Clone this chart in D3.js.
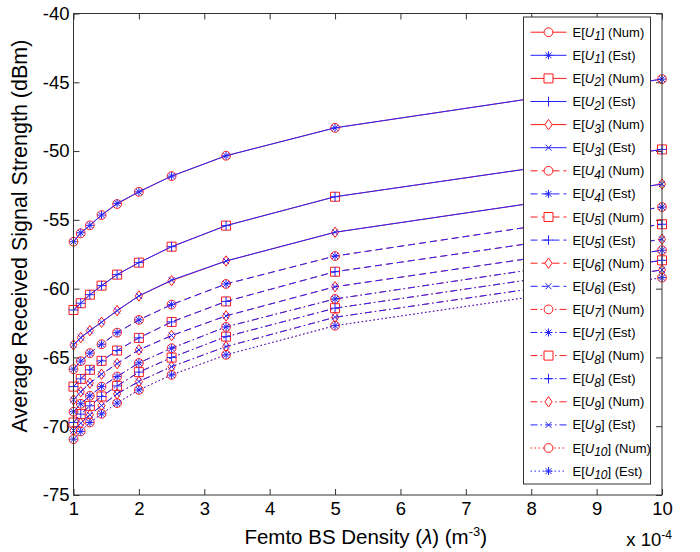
<!DOCTYPE html>
<html>
<head>
<meta charset="utf-8">
<script src="https://cdn.jsdelivr.net/npm/d3@7"></script>
<style>
  body { margin: 0; background: #fff; }
  svg { font-family: "Liberation Sans", Arial, sans-serif; }
</style>
</head>
<body>
<div id="my_dataviz"></div>
<script>
// femto BS density, x 10^-4
var densities = [1, 1.111, 1.25, 1.429, 1.667, 2, 2.5, 3.333, 5, 10];
var xTicks = [1, 2, 3, 4, 5, 6, 7, 8, 9, 10];
var yTicks = [-75, -70, -65, -60, -55, -50, -45, -40];

// numerical results, one row per user U1..U10
var numValues = [
    [-56.59, -55.98, -55.40, -54.65, -53.85, -52.96, -51.82, -50.34, -48.31, -44.77],
    [-61.55, -61.06, -60.44, -59.78, -58.98, -58.11, -56.95, -55.42, -53.32, -49.88],
    [-64.09, -63.56, -63.05, -62.44, -61.60, -60.53, -59.42, -57.99, -55.90, -52.40],
    [-65.85, -65.27, -64.69, -64.04, -63.20, -62.27, -61.16, -59.66, -57.63, -54.07],
    [-67.12, -66.56, -65.90, -65.25, -64.50, -63.58, -62.42, -60.93, -58.77, -55.32],
    [-68.08, -67.50, -66.87, -66.22, -65.45, -64.45, -63.41, -61.98, -59.86, -56.41],
    [-68.95, -68.37, -67.79, -67.12, -66.39, -65.40, -64.33, -62.78, -60.75, -57.21],
    [-69.73, -69.12, -68.52, -67.84, -67.07, -66.07, -65.01, -63.49, -61.42, -57.94],
    [-70.31, -69.78, -69.17, -68.50, -67.65, -66.75, -65.67, -64.21, -62.08, -58.64],
    [-70.94, -70.38, -69.73, -69.10, -68.32, -67.36, -66.27, -64.81, -62.69, -59.20]
];

// estimated results, one row per user U1..U10
var estValues = [
    [-56.59, -55.94, -55.40, -54.65, -53.80, -52.96, -51.82, -50.34, -48.31, -44.77],
    [-61.55, -61.06, -60.44, -59.78, -58.98, -58.11, -56.95, -55.42, -53.32, -49.88],
    [-64.09, -63.56, -63.05, -62.44, -61.60, -60.53, -59.38, -57.99, -55.90, -52.40],
    [-65.85, -65.27, -64.69, -64.04, -63.20, -62.27, -61.16, -59.66, -57.63, -54.07],
    [-67.12, -66.56, -65.90, -65.25, -64.50, -63.58, -62.42, -60.93, -58.77, -55.32],
    [-68.08, -67.50, -66.87, -66.22, -65.45, -64.45, -63.41, -61.98, -59.86, -56.41],
    [-68.95, -68.37, -67.79, -67.12, -66.39, -65.40, -64.33, -62.78, -60.75, -57.21],
    [-69.73, -69.12, -68.52, -67.84, -67.07, -66.07, -65.01, -63.49, -61.42, -57.94],
    [-70.31, -69.78, -69.17, -68.50, -67.65, -66.75, -65.67, -64.21, -62.08, -58.64],
    [-70.94, -70.38, -69.73, -69.10, -68.32, -67.36, -66.27, -64.81, -62.69, -59.20]
];

var userLabels = ["1", "2", "3", "4", "5", "6", "7", "8", "9", "10"];

var red = "#ff1a1a", blue = "#2424ff";
var dashes = { solid: null, dashed: "7,4", dashdot: "7,3,1.5,3", dotted: "1.5,2.5" };
function lineStyle(i) {
    if (i < 3) return dashes.solid;
    if (i < 6) return dashes.dashed;
    if (i < 9) return dashes.dashdot;
    return dashes.dotted;
}

// marker paths
var numMarkers = [
    "M4.4,0A4.4,4.4 0 1,1 -4.4,0A4.4,4.4 0 1,1 4.4,0Z",    // circle
    "M-4.5,-4.5H4.5V4.5H-4.5Z",                               // square
    "M0,-5.2L3.6,0L0,5.2L-3.6,0Z"                             // diamond
];
var estMarkers = [
    "M-4,0H4M0,-4V4M-2.9,-2.9L2.9,2.9M-2.9,2.9L2.9,-2.9",     // star
    "M-4.8,0H4.8M0,-4.8V4.8",                                 // plus
    "M-3,-3L3,3M-3,3L3,-3"                                    // x
];

var margin = { top: 13.5, right: 38, bottom: 57, left: 73.5 },
    width = 700 - margin.left - margin.right,
    height = 552 - margin.top - margin.bottom;

var svg = d3.select("#my_dataviz")
    .append("svg")
    .attr("width", 700)
    .attr("height", 552)
    .append("g")
    .attr("transform", "translate(" + margin.left + "," + margin.top + ")");

var x = d3.scaleLinear().domain([1, 10]).range([0, width]);
var y = d3.scaleLinear().domain([-75, -40]).range([height, 0]);

// axes, ticks pointing inwards on all four sides
function styleAxis(g) {
    g.select(".domain").remove();
    g.selectAll(".tick line").attr("stroke", "#333");
    g.selectAll(".tick text").attr("fill", "#000").attr("font-size", "18.5px");
}
svg.append("g")
    .attr("transform", "translate(0," + height + ")")
    .call(d3.axisBottom(x).tickValues(xTicks).tickSizeInner(-6).tickSizeOuter(0).tickPadding(7).tickFormat(String))
    .call(styleAxis);
svg.append("g")
    .call(d3.axisTop(x).tickValues(xTicks).tickSizeInner(-6).tickSizeOuter(0).tickFormat(""))
    .call(styleAxis);
svg.append("g")
    .call(d3.axisLeft(y).tickValues(yTicks).tickSizeInner(-6).tickSizeOuter(0).tickPadding(4).tickFormat(String))
    .call(styleAxis);
svg.append("g")
    .attr("transform", "translate(" + width + ",0)")
    .call(d3.axisRight(y).tickValues(yTicks).tickSizeInner(-6).tickSizeOuter(0).tickFormat(""))
    .call(styleAxis);

var line = d3.line()
    .x(function (d, i) { return x(densities[i]); })
    .y(function (d) { return y(d); });

// curves, Num then Est for each user
numValues.forEach(function (row, i) {
    var series = [
        { values: row, color: red, marker: numMarkers[i % 3], w: 0.9 },
        { values: estValues[i], color: blue, marker: estMarkers[i % 3], w: 1 }
    ];
    series.forEach(function (s) {
        svg.append("path")
            .datum(s.values)
            .attr("fill", "none")
            .attr("stroke", s.color)
            .attr("stroke-width", s.w)
            .attr("stroke-dasharray", lineStyle(i))
            .attr("d", line);
        svg.selectAll(null)
            .data(s.values)
            .enter()
            .append("path")
            .attr("transform", function (d, k) { return "translate(" + x(densities[k]) + "," + y(d) + ")"; })
            .attr("d", s.marker)
            .attr("fill", "none")
            .attr("stroke", s.color)
            .attr("stroke-width", 1);
    });
});

// plot box
svg.append("rect")
    .attr("width", width)
    .attr("height", height)
    .attr("fill", "none")
    .attr("stroke", "#333")
    .attr("stroke-width", 1);

// legend
var legendEntries = [];
userLabels.forEach(function (u, i) {
    legendEntries.push({ u: u, kind: "Num", color: red, marker: numMarkers[i % 3], dash: lineStyle(i) });
    legendEntries.push({ u: u, kind: "Est", color: blue, marker: estMarkers[i % 3], dash: lineStyle(i) });
});

var legend = svg.append("g")
    .attr("transform", "translate(" + (523.5 - margin.left) + "," + (17 - margin.top) + ")");
legend.append("rect")
    .attr("width", 127)
    .attr("height", 467)
    .attr("fill", "#fff")
    .attr("stroke", "#333")
    .attr("stroke-width", 1);

var rowH = 23.1;
var rows = legend.selectAll(".lrow")
    .data(legendEntries)
    .enter()
    .append("g")
    .attr("transform", function (d, i) { return "translate(0," + (15.2 + i * rowH) + ")"; });
rows.append("line")
    .attr("x1", 7).attr("x2", 43)
    .attr("stroke", function (d) { return d.color; })
    .attr("stroke-width", 1)
    .attr("stroke-dasharray", function (d) { return d.dash; });
rows.append("path")
    .attr("transform", "translate(25,0)")
    .attr("d", function (d) { return d.marker; })
    .attr("fill", "#fff")
    .attr("stroke", function (d) { return d.color; });
var lt = rows.append("text")
    .attr("x", 49)
    .attr("y", 4.5)
    .attr("font-size", "13px")
    .attr("fill", "#000");
lt.append("tspan").text("E[");
lt.append("tspan").attr("font-style", "italic").text("U");
lt.append("tspan").attr("font-style", "italic").attr("font-size", "12px").attr("dy", 3.5)
    .text(function (d) { return d.u; });
lt.append("tspan").attr("dy", -3.5).text(function (d) { return "] (" + d.kind + ")"; });

// axis labels
var xl = svg.append("text")
    .attr("x", width / 2 - 2)
    .attr("y", height + 49)
    .attr("text-anchor", "middle")
    .attr("font-size", "20.5px")
    .attr("fill", "#000");
xl.append("tspan").text("Femto BS Density (");
xl.append("tspan").attr("font-style", "italic").text("λ");
xl.append("tspan").text(") (m");
xl.append("tspan").attr("font-size", "13px").attr("dy", -8).text("-3");
xl.append("tspan").attr("dy", 8).text(")");

var xm = svg.append("text")
    .attr("x", width + 10)
    .attr("y", height + 51)
    .attr("text-anchor", "end")
    .attr("font-size", "18.5px")
    .attr("fill", "#000");
xm.append("tspan").text("x 10");
xm.append("tspan").attr("font-size", "12px").attr("dy", -7).text("-4");

svg.append("text")
    .attr("text-anchor", "middle")
    .attr("transform", "rotate(-90)")
    .attr("x", -236 + margin.top)
    .attr("y", -margin.left + 27)
    .attr("font-size", "21.5px")
    .attr("fill", "#000")
    .text("Average Received Signal Strength (dBm)");
</script>
</body>
</html>
